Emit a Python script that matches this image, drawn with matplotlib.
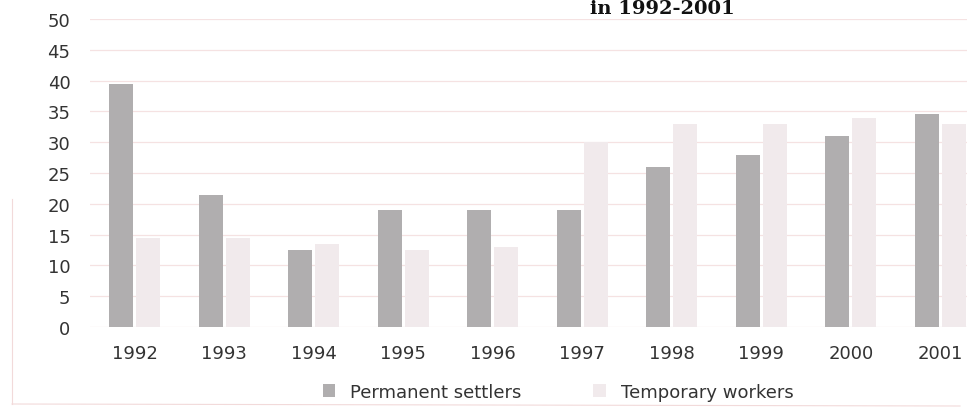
import matplotlib.pyplot as plt
import numpy as np

years = ["1992", "1993", "1994", "1995", "1996", "1997", "1998", "1999", "2000", "2001"]
permanent = [39.5, 21.5, 12.5, 19, 19, 19, 26, 28, 31, 34.5]
temporary = [14.5, 14.5, 13.5, 12.5, 13, 30, 33, 33, 34, 33]
y_ticks = [0, 5, 10, 15, 20, 25, 30, 35, 40, 45, 50]

plt.rcParams['font.family'] = ['DejaVu Sans']

fig = plt.figure(figsize=(9.67, 4.10), dpi=100)
W, H = 967.0, 410.0

# plot area runs past the right edge, the photo cuts it off
ax = fig.add_axes([90 / W, (H - 328) / H, 895 / W, 308 / H])

x = np.arange(len(years))
w = 0.27
ax.bar(x - 0.15, permanent, w, color="#b0aeaf", label="Permanent settlers", zorder=2)
ax.bar(x + 0.15, temporary, w, color="#f1eaec", label="Temporary workers", zorder=2)

ax.set_xlim(-0.5, len(years) - 0.5)
ax.set_ylim(0, 50)
ax.set_yticks(y_ticks)
ax.set_xticks(x)
ax.set_xticklabels(years)
ax.grid(axis="y", color="#f5e2e2", lw=0.9, zorder=0)
for s in ax.spines.values():
    s.set_visible(False)
ax.tick_params(axis="both", length=0, labelsize=13, colors="#333333")
ax.tick_params(axis="y", pad=14)
ax.tick_params(axis="x", pad=12)

# title is mostly cut off at the top of the photo
fig.text(735 / W, 1.0, "in 1992-2001", ha="right", va="top",
         family="DejaVu Serif", fontweight="bold", fontsize=14, color="#111111")

fig.legend(loc="center", bbox_to_anchor=(558 / W, 17 / H), ncol=2, frameon=False,
           fontsize=13, handlelength=0.7, handleheight=0.7, columnspacing=4.0,
           labelcolor="#333333")

# faint outer frame of the chart area
fig.add_artist(plt.Line2D([12 / W, 12 / W], [5 / H, 210 / H], color="#f2dada", lw=0.8))
fig.add_artist(plt.Line2D([12 / W, 960 / W], [5 / H, 3 / H], color="#f2dada", lw=0.8))

fig.savefig("out.png", dpi=100)
